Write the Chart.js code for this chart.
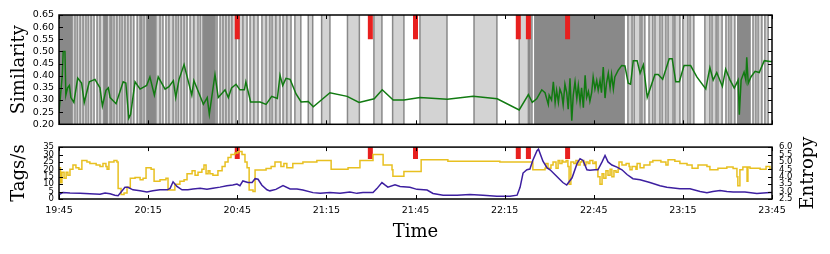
<!DOCTYPE html>
<html>
<head>
<meta charset="utf-8">
<script src="https://cdn.jsdelivr.net/npm/chart.js@4.4.1/dist/chart.umd.min.js"></script>
<style>
  html, body { margin: 0; padding: 0; background: #fff; }
  #wrap { position: relative; width: 830px; height: 254px; }
  canvas { position: absolute; left: 0; }
  #top { top: 0; }
  #bottom { top: 135px; }
</style>
</head>
<body>
<div id="wrap">
  <canvas id="top" width="830" height="135"></canvas>
  <canvas id="bottom" width="830" height="119"></canvas>
</div>
<script>
// all times are minutes after 19:45
const timeLabels = ['19:45', '20:15', '20:45', '21:15', '21:45', '22:15', '22:45', '23:15', '23:45'];
const eventTimes = [60, 104.8, 120, 154.6, 158, 171.2];

// similarity (green line)
const simTimes = [0, 1.1, 1.4, 2.0, 2.3, 2.9, 3.5, 4.0, 5.0, 6.3,
  7.6, 8.5, 10.2, 12.1, 13.8, 14.6, 15.8, 16.6, 17.2, 19.2,
  21.6, 22.5, 23.5, 24.1, 25.6, 27.3, 29.5, 30.6, 32.1, 33.4,
  35.7, 37.0, 38.5, 39.3, 40.4, 42.1, 44.7, 45.4, 48.6, 49.9,
  50.6, 52.5, 53.6, 55.9, 57.0, 58.1, 59.6, 60.9, 62.4, 62.9,
  64.5, 67.7, 69.7, 71.6, 73.5, 74.4, 75.3, 76.4, 77.8, 79.8,
  81.5, 83.9, 85.6, 91.2, 97.0, 101.0, 106.1, 108.8, 112.5, 116.1,
  121.5, 130.7, 139.4, 147.5, 154.9, 158.0, 159.3, 160.8, 162.5, 163.6,
  164.7, 165.0, 165.8, 166.4, 167.0, 167.5, 168.1, 168.6, 169.2, 169.7,
  170.3, 170.9, 171.4, 172.0, 172.6, 173.1, 173.7, 174.3, 174.8, 175.4,
  175.9, 176.5, 177.1, 177.6, 178.2, 178.7, 179.3, 179.8, 180.4, 181.0,
  181.5, 182.1, 182.6, 183.2, 183.8, 184.3, 184.9, 185.5, 186.0, 186.6,
  187.1, 188.2, 189.4, 190.5, 191.6, 192.4, 193.3, 194.6, 195.6, 196.7,
  198.0, 200.6, 201.7, 203.2, 205.4, 206.4, 207.6, 208.8, 210.4, 212.6,
  214.7, 217.7, 219.1, 220.2, 221.4, 223.3, 224.4, 225.9, 227.3, 228.6,
  229.0, 229.6, 230.6, 231.2, 231.5, 232.0, 232.9, 234.3, 235.7, 237.4,
  239.3, 240];
const simValues = [0.25, 0.40, 0.50, 0.50, 0.32, 0.35, 0.36, 0.31, 0.29, 0.39,
  0.37, 0.29, 0.375, 0.385, 0.35, 0.275, 0.34, 0.35, 0.31, 0.285,
  0.375, 0.37, 0.225, 0.24, 0.375, 0.345, 0.36, 0.395, 0.32, 0.395,
  0.345, 0.355, 0.38, 0.31, 0.385, 0.446, 0.32, 0.38, 0.282, 0.31,
  0.241, 0.405, 0.31, 0.342, 0.31, 0.35, 0.365, 0.342, 0.342, 0.375,
  0.292, 0.292, 0.282, 0.315, 0.306, 0.402, 0.36, 0.389, 0.385, 0.325,
  0.292, 0.294, 0.272, 0.33, 0.315, 0.29, 0.305, 0.342, 0.30, 0.30,
  0.31, 0.303, 0.315, 0.305, 0.259, 0.322, 0.29, 0.305, 0.342, 0.33,
  0.282, 0.32, 0.30, 0.375, 0.29, 0.34, 0.29, 0.345, 0.325, 0.28,
  0.365, 0.33, 0.262, 0.389, 0.215, 0.32, 0.375, 0.305, 0.36, 0.29,
  0.35, 0.268, 0.402, 0.31, 0.335, 0.295, 0.33, 0.395, 0.345, 0.38,
  0.34, 0.38, 0.33, 0.436, 0.308, 0.37, 0.41, 0.35, 0.405, 0.345,
  0.395, 0.422, 0.442, 0.44, 0.369, 0.365, 0.462, 0.462, 0.41, 0.445,
  0.311, 0.405, 0.405, 0.385, 0.47, 0.47, 0.375, 0.375, 0.442, 0.442,
  0.395, 0.346, 0.433, 0.382, 0.413, 0.356, 0.427, 0.382, 0.349, 0.382,
  0.239, 0.382, 0.415, 0.382, 0.476, 0.369, 0.395, 0.418, 0.413, 0.462,
  0.459, 0.459];

// shaded intervals behind the similarity line
const lightSpans = [[4.4, 5.4], [6.1, 7.1], [7.1, 8.1], [8.1, 9.1], [9.8, 10.8], [10.8, 11.8],
  [12.8, 13.8], [13.8, 15.1], [16.2, 17.2], [17.2, 17.8], [18.5, 19.5], [19.5, 20.5],
  [21.2, 22.2], [22.2, 23.2], [23.2, 24.2], [24.2, 25.2], [26.3, 27.3], [27.3, 27.9],
  [28.6, 29.6], [32.6, 34.0], [34.0, 35.0], [36.0, 37.0], [37.0, 38.4], [38.4, 39.4],
  [40.1, 41.1], [41.1, 42.1], [42.1, 43.1], [44.1, 45.4], [45.4, 46.8], [47.5, 48.5],
  [52.5, 53.2], [54.2, 55.2], [55.2, 56.2], [56.2, 57.2], [57.2, 58.2], [58.2, 59.6],
  [60.6, 61.9], [61.9, 63.3], [64.3, 65.6], [65.6, 67.0], [68.3, 69.7], [69.7, 71.0],
  [71.7, 73.0], [73.0, 74.4], [75.4, 76.7], [76.7, 78.1],
  [79.4, 81.4], [83.9, 85.4], [88.4, 91.2], [97.1, 101.1], [106.0, 108.7], [112.3, 116.1],
  [121.5, 130.6], [139.7, 147.4], [154.9, 158.0], [158.5, 159.2],
  [191.5, 192.9], [193.6, 195.6], [196.2, 197.2], [198.6, 199.9], [200.6, 202.3], [203.0, 204.3],
  [205.0, 206.7], [207.3, 209.0], [210.0, 211.7], [212.4, 213.7], [217.4, 219.1], [219.8, 221.2],
  [221.8, 223.2], [224.5, 225.5], [226.2, 227.5], [233.6, 234.6], [235.3, 236.6], [237.6, 238.7]];
const darkSpans = [[0, 4.4], [15.1, 16.2], [29.6, 32.6], [48.5, 52.5], [159.9, 190.5], [228.2, 232.9]];

// tags per second (yellow, stepped)
const tagTimes = [0, 0.5, 1.0, 1.7, 2.4, 3.0, 3.7, 4.7, 5.7, 6.7,
  7.7, 9.4, 10.4, 12.5, 13.8, 14.8, 15.8, 16.2, 16.8, 18.5,
  19.5, 19.9, 20.9, 21.9, 22.9, 24.0, 25.6, 27.3, 28.3, 29.3,
  31.0, 32.0, 34.0, 36.0, 36.7, 39.0, 40.7, 42.1, 43.1, 44.8,
  45.8, 46.8, 48.1, 48.8, 49.5, 50.2, 50.8, 51.8, 53.5, 54.9,
  55.9, 56.9, 57.9, 59.2, 60.2, 61.6, 62.6, 63.3, 64.0, 65.3,
  66.0, 69.7, 71.4, 72.7, 74.7, 75.7, 76.7, 78.7, 82.1, 86.8,
  91.6, 97.3, 101.3, 105.7, 109.1, 112.1, 112.4, 116.1, 121.9, 130.9,
  148.4, 159.5, 163.6, 163.9, 164.6, 165.6, 166.3, 167.3, 168.0, 168.6,
  169.3, 169.6, 170.7, 171.3, 171.7, 172.3, 173.3, 174.0, 174.7, 175.4,
  176.0, 176.7, 177.4, 178.1, 178.7, 179.7, 180.4, 180.8, 181.4, 182.1,
  182.8, 183.4, 184.1, 184.8, 185.5, 186.1, 186.8, 187.5, 188.2, 188.5,
  189.5, 190.9, 191.9, 192.2, 192.9, 194.2, 194.6, 195.6, 196.9, 198.9,
  199.9, 202.6, 204.3, 205.0, 207.3, 209.0, 211.4, 213.1, 215.1, 218.1,
  219.1, 221.8, 224.8, 226.9, 228.2, 228.5, 229.2, 230.2, 231.6, 231.9,
  232.6, 236.0, 238.0, 239.3, 240];
const tagValues = [21, 11, 18, 14, 18, 16, 20, 23, 21, 20,
  26, 25, 24, 23, 22, 24, 22, 20, 25, 26,
  25, 7, 3, 4, 8, 14, 14.5, 13, 14, 21,
  20, 12, 13, 14, 6, 10, 12, 13, 17, 19,
  16, 18, 20, 23, 17, 19, 17, 16, 19, 22,
  25, 28, 30, 31, 32, 30, 25, 21, 6, 5,
  19.5, 20.5, 22, 25, 22, 24, 21, 24, 25, 26,
  20, 21, 26, 30, 23, 19.7, 15.4, 18.6, 26.5, 25.5,
  25, 19.7, 20.8, 24, 20.8, 22.9, 25, 20.8, 26, 24,
  26, 25, 26, 22, 10, 25, 24, 26, 23, 25,
  26, 23, 25, 24, 26, 24, 25, 20, 15, 10,
  17, 14, 19, 16, 20, 15, 19, 18, 20, 25,
  23, 24, 22, 19.7, 22, 20, 24, 21, 23, 25,
  26, 25, 23, 26.5, 25.5, 24, 22.9, 20.8, 22.9, 22,
  19.7, 20.8, 21.5, 20.5, 15, 9, 19.7, 21.5, 12, 21.5,
  20.8, 20, 22, 20, 20];

// entropy (purple)
const entTimes = [0, 1.3, 3.7, 7.1, 10.4, 13.8, 15.5, 17.2, 18.8, 19.9,
  22.2, 23.2, 24.9, 27.3, 29.6, 31.6, 34.0, 36.4, 37.4, 38.4,
  39.7, 41.4, 43.4, 45.1, 47.5, 49.8, 51.8, 54.2, 56.5, 58.5,
  59.9, 60.9, 61.9, 63.6, 65.0, 66.0, 67.0, 68.3, 70.0, 71.0,
  73.0, 75.4, 77.8, 80.1, 82.1, 85.5, 87.9, 91.2, 94.6, 97.9,
  100.3, 102.3, 105.7, 107.0, 108.7, 109.7, 110.7, 113.1, 114.8, 118.1,
  120.5, 123.9, 125.9, 129.3, 134.0, 138.3, 142.7, 147.4, 151.8, 154.2,
  155.2, 156.2, 157.5, 158.5, 159.5, 160.9, 161.4, 162.9, 164.3, 165.3,
  167.5, 169.6, 170.9, 172.7, 174.4, 175.4, 176.4, 177.7, 178.7, 180.4,
  181.4, 182.8, 183.8, 184.8, 186.1, 187.8, 189.5, 191.2, 193.2, 195.6,
  198.9, 202.3, 204.6, 209.0, 212.4, 215.8, 218.1, 220.1, 222.5, 224.8,
  226.9, 230.9, 234.9, 239.3, 240];
const entValues = [2.80, 2.93, 2.90, 2.88, 2.85, 2.82, 2.90, 2.85, 2.76, 2.72,
  3.29, 3.29, 3.12, 3.05, 2.97, 3.05, 3.12, 3.12, 3.22, 3.66,
  3.35, 3.12, 3.12, 3.18, 3.22, 3.15, 3.22, 3.30, 3.40, 3.45,
  3.51, 3.40, 3.72, 3.62, 3.62, 3.87, 3.83, 3.43, 3.12, 3.05,
  3.15, 3.40, 3.18, 3.18, 3.10, 2.93, 2.88, 2.93, 2.88, 2.97,
  2.88, 2.93, 2.93, 3.20, 3.61, 3.45, 3.30, 3.46, 3.35, 3.29,
  3.15, 3.10, 2.87, 2.76, 2.76, 2.80, 2.76, 2.69, 2.69, 2.76,
  3.29, 4.25, 4.47, 4.52, 5.11, 5.76, 5.86, 5.05, 4.60, 4.47,
  4.04, 3.61, 3.44, 3.93, 4.90, 5.22, 5.10, 4.47, 4.44, 4.47,
  4.47, 5.00, 5.43, 5.00, 4.79, 4.65, 4.47, 4.15, 3.87, 3.80,
  3.61, 3.40, 3.29, 3.19, 3.19, 3.01, 2.93, 3.01, 3.08, 3.01,
  2.97, 2.97, 2.87, 2.93, 2.93];

Chart.defaults.font.family = 'DejaVu Sans';
Chart.defaults.color = '#000';

function toPoints(times, values) {
  return times.map((t, i) => ({ x: t, y: values[i] }));
}
// a filled block for each [start, end] interval
function spanPoints(spans, top) {
  return spans.flatMap(([a, b]) => [{ x: a, y: top }, { x: b, y: top }, { x: b, y: null }]);
}
// one vertical stroke per time
function vlinePoints(times, lo, hi) {
  return times.flatMap(t => [{ x: t, y: lo }, { x: t, y: hi }, { x: t, y: null }]);
}

const xTickValues = timeLabels.map((_, i) => i * 30);

// black box round the plot with small inward ticks, matplotlib style
const panelFrame = {
  id: 'panelFrame',
  afterDraw(chart) {
    const { ctx, chartArea: a, scales } = chart;
    ctx.save();
    ctx.strokeStyle = '#000';
    ctx.lineWidth = 1;
    ctx.beginPath();
    xTickValues.forEach(v => {
      const px = Math.round(scales.x.getPixelForValue(v)) + 0.5;
      ctx.moveTo(px, a.top); ctx.lineTo(px, a.top + 4);
      ctx.moveTo(px, a.bottom); ctx.lineTo(px, a.bottom - 4);
    });
    const left = scales.y, right = scales.y2 || scales.y;
    left.ticks.forEach(t => {
      const py = Math.round(left.getPixelForValue(t.value)) + 0.5;
      ctx.moveTo(a.left, py); ctx.lineTo(a.left + 4, py);
    });
    right.ticks.forEach(t => {
      const py = Math.round(right.getPixelForValue(t.value)) + 0.5;
      ctx.moveTo(a.right, py); ctx.lineTo(a.right - 4, py);
    });
    ctx.stroke();
    ctx.lineWidth = 1.5;
    ctx.strokeRect(a.left, a.top, a.right - a.left, a.bottom - a.top);
    if (chart.canvas.id === 'bottom') {
      // right-hand label reads bottom to top
      ctx.translate(808, (a.top + a.bottom) / 2);
      ctx.rotate(-Math.PI / 2);
      ctx.font = '18px "DejaVu Serif"';
      ctx.fillStyle = '#000';
      ctx.textAlign = 'center';
      ctx.textBaseline = 'middle';
      ctx.fillText('Entropy', 0, 0);
    }
    ctx.restore();
  }
};

const baseOptions = {
  animation: false,
  responsive: false,
  events: [],
  plugins: { legend: { display: false }, tooltip: { enabled: false } },
  elements: { point: { radius: 0 }, line: { tension: 0 } }
};

const titleFont = { family: 'DejaVu Serif', size: 18 };
const noGrid = { display: false, drawTicks: false };

// top panel: similarity
new Chart(document.getElementById('top'), {
  type: 'line',
  data: {
    datasets: [
      { data: spanPoints(lightSpans, 0.65), fill: 'start', backgroundColor: '#d3d3d3',
        borderColor: 'rgba(0,0,0,0)', borderWidth: 0, order: 5 },
      { data: spanPoints(darkSpans, 0.65), fill: 'start', backgroundColor: '#898989',
        borderColor: 'rgba(0,0,0,0)', borderWidth: 0, order: 4 },
      { data: vlinePoints(lightSpans.flat(), 0.2, 0.65), borderColor: '#898989', borderWidth: 1.5, order: 3 },
      { data: vlinePoints(eventTimes, 0.55, 0.65), borderColor: '#e8201f', borderWidth: 5,
        borderCapStyle: 'butt', order: 2 },
      { data: toPoints(simTimes, simValues), borderColor: '#117a11', borderWidth: 1.5, order: 1 }
    ]
  },
  options: {
    ...baseOptions,
    layout: { padding: { top: 15, bottom: 8, right: 58, left: 0 } },
    scales: {
      x: { type: 'linear', min: 0, max: 240, display: false },
      y: {
        min: 0.2, max: 0.65,
        grid: noGrid, border: { display: false },
        ticks: { stepSize: 0.05, autoSkip: false, padding: 5, font: { size: 9.5 },
                 callback: v => v.toFixed(2) },
        title: { display: true, text: 'Similarity', font: titleFont, padding: { top: 8.7, bottom: 0 } },
        afterFit: s => { s.width = 59; }
      }
    }
  },
  plugins: [panelFrame]
});

// bottom panel: tags/s and entropy
new Chart(document.getElementById('bottom'), {
  type: 'line',
  data: {
    datasets: [
      { data: vlinePoints(eventTimes, 27, 35), yAxisID: 'y', borderColor: '#e8201f', borderWidth: 5,
        borderCapStyle: 'butt', order: 3 },
      { data: toPoints(tagTimes, tagValues), yAxisID: 'y', stepped: true,
        borderColor: '#e8c020', borderWidth: 1.5, order: 2 },
      { data: toPoints(entTimes, entValues), yAxisID: 'y2',
        borderColor: '#3d1fa0', borderWidth: 1.5, order: 1 }
    ]
  },
  options: {
    ...baseOptions,
    layout: { padding: { top: 9.5, bottom: 0, right: 0, left: 0 } },
    scales: {
      x: {
        type: 'linear', min: 0, max: 240,
        grid: noGrid, border: { display: false },
        ticks: { stepSize: 30, autoSkip: false, maxRotation: 0, padding: 6, font: { size: 9.5 },
                 callback: v => timeLabels[Math.round(v / 30)] },
        title: { display: true, text: 'Time', font: titleFont, padding: { top: 0, bottom: 11.2 } },
        afterFit: s => { s.height = 55; }
      },
      y: {
        position: 'left', min: 0, max: 35,
        grid: noGrid, border: { display: false },
        ticks: { stepSize: 5, autoSkip: false, padding: 5, font: { size: 8.5 } },
        title: { display: true, text: 'Tags/s', font: titleFont, padding: { top: 8.7, bottom: 0 } },
        afterFit: s => { s.width = 59; }
      },
      y2: {
        position: 'right', min: 2.5, max: 6.0,
        grid: noGrid, border: { display: false },
        ticks: { stepSize: 0.5, autoSkip: false, padding: 7, font: { size: 8.5 },
                 callback: v => v.toFixed(1) },
        afterFit: s => { s.width = 58; }
      }
    }
  },
  plugins: [panelFrame]
});
</script>
</body>
</html>
